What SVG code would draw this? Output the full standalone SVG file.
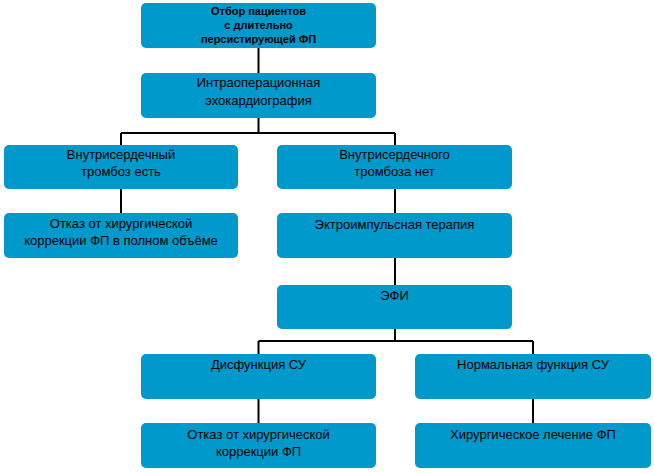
<svg xmlns="http://www.w3.org/2000/svg" width="654" height="473" viewBox="0 0 654 473">
<style>
.b{fill:#0099cc;}
.t{font-family:"Liberation Sans",Arial,sans-serif;font-size:13px;fill:#000;text-anchor:middle;}
.bold{font-weight:bold;font-size:11px;}
.c{stroke:#000;stroke-width:2;fill:none;}
</style>
<rect width="654" height="473" fill="#fff"/>
<g id="connectors" class="c">
<path d="M258.5 48V73M258.5 118V133M121 133H395M121 133V145M395 133V145M121 189V213M395 189V213M395 258V285M395 329V341M258.5 341H533M258.5 341V354M533 341V354M258.5 399V423M533 399V423"/>
</g>
<g id="n1"><rect class="b" x="141" y="3" width="235" height="45" rx="5"/><text class="t bold" x="258.5" y="15">Отбор пациентов</text><text class="t bold" x="258.5" y="29">с длительно</text><text class="t bold" x="258.5" y="43">персистирующей ФП</text></g>
<g id="n2"><rect class="b" x="141" y="73" width="235" height="45" rx="5"/><text class="t" x="258.5" y="87">Интраоперационная</text><text class="t" x="258.5" y="105">эхокардиография</text></g>
<g id="n3"><rect class="b" x="4" y="145" width="234" height="44" rx="5"/><text class="t" x="121" y="159">Внутрисердечный</text><text class="t" x="121" y="176">тромбоз есть</text></g>
<g id="n4"><rect class="b" x="277" y="145" width="235" height="44" rx="5"/><text class="t" x="394.5" y="159">Внутрисердечного</text><text class="t" x="394.5" y="176">тромбоза нет</text></g>
<g id="n5"><rect class="b" x="4" y="213" width="234" height="45" rx="5"/><text class="t" x="121" y="228">Отказ от хирургической</text><text class="t" x="121" y="245">коррекции ФП в полном объёме</text></g>
<g id="n6"><rect class="b" x="277" y="213" width="235" height="45" rx="5"/><text class="t" x="394.5" y="229">Эктроимпульсная терапия</text></g>
<g id="n7"><rect class="b" x="277" y="285" width="235" height="44" rx="5"/><text class="t" x="394.5" y="300">ЭФИ</text></g>
<g id="n8"><rect class="b" x="141" y="354" width="235" height="45" rx="5"/><text class="t" x="258.5" y="369">Дисфункция СУ</text></g>
<g id="n9"><rect class="b" x="415" y="354" width="236" height="45" rx="5"/><text class="t" x="533" y="369">Нормальная функция СУ</text></g>
<g id="n10"><rect class="b" x="141" y="423" width="235" height="45" rx="5"/><text class="t" x="258.5" y="439">Отказ от хирургической</text><text class="t" x="258.5" y="456">коррекции ФП</text></g>
<g id="n11"><rect class="b" x="415" y="423" width="236" height="45" rx="5"/><text class="t" x="533" y="439">Хирургическое лечение ФП</text></g>
</svg>
